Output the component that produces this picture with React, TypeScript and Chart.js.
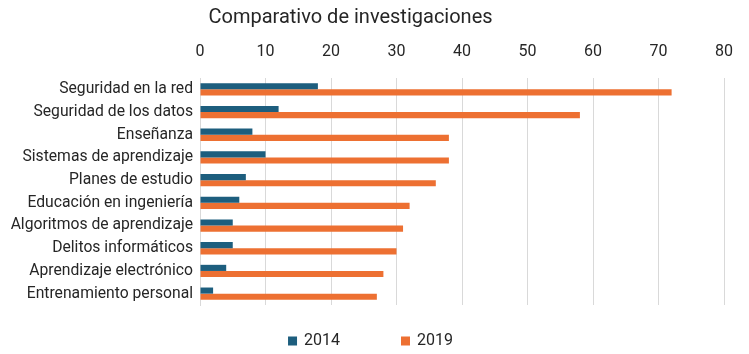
import React, { useEffect, useRef } from "react";
import { Chart, registerables } from "chart.js";

Chart.register(...registerables);

const chartTitle = "Comparativo de investigaciones";
const categories = [
  "Seguridad en la red",
  "Seguridad de los datos",
  "Enseñanza",
  "Sistemas de aprendizaje",
  "Planes de estudio",
  "Educación en ingeniería",
  "Algoritmos de aprendizaje",
  "Delitos informáticos",
  "Aprendizaje electrónico",
  "Entrenamiento personal",
];
const seriesNames = ["2014", "2019"];
const values2014 = [18, 12, 8, 10, 7, 6, 5, 5, 4, 2];
const values2019 = [72, 58, 38, 38, 36, 32, 31, 30, 28, 27];
const axisMin = 0;
const axisMax = 80;
const axisStep = 10;

const FONT = "Roboto, 'Noto Sans', sans-serif";
const TEXT = "#262626";

const titlePlugin = {
  id: "customTitle",
  afterDraw(chart: any) {
    const ctx = chart.ctx;
    ctx.save();
    ctx.font = `400 20px ${FONT}`;
    ctx.fillStyle = TEXT;
    ctx.textAlign = "center";
    ctx.textBaseline = "middle";
    ctx.fillText(chartTitle, chart.width * 0.468, 18);
    ctx.restore();
  },
};

const legendPlugin = {
  id: "customLegend",
  afterDraw(chart: any) {
    const ctx = chart.ctx;
    const box = 9;
    const gap = 7;
    const spacing = 61;
    ctx.save();
    ctx.font = `400 16px ${FONT}`;
    ctx.textBaseline = "middle";
    ctx.textAlign = "left";
    const items = chart.data.datasets.map((ds: any) => {
      const tw = ctx.measureText(ds.label).width;
      return { label: ds.label, color: ds.backgroundColor, w: box + gap + tw };
    });
    const total = items.reduce((a: number, it: any) => a + it.w, 0) + spacing * (items.length - 1);
    let x = chart.width / 2 - 4 - total / 2;
    const y = 341;
    items.forEach((it: any) => {
      ctx.fillStyle = it.color;
      ctx.fillRect(x, y - box / 2, box, box);
      ctx.fillStyle = TEXT;
      ctx.fillText(it.label, x + box + gap, y);
      x += it.w + spacing;
    });
    ctx.restore();
  },
};

export default function App() {
  const ref = useRef<HTMLCanvasElement | null>(null);
  useEffect(() => {
    document.body.style.margin = "0";
    if (!ref.current) return;
    const chart = new Chart(ref.current, {
      type: "bar",
      data: {
        labels: categories,
        datasets: [
          {
            label: seriesNames[0],
            data: values2014,
            backgroundColor: "#1D5E7E",
            categoryPercentage: 0.54,
            barPercentage: 1,
          },
          {
            label: seriesNames[1],
            data: values2019,
            backgroundColor: "#ED7032",
            categoryPercentage: 0.54,
            barPercentage: 1,
          },
        ],
      },
      options: {
        indexAxis: "y",
        animation: false,
        responsive: false,
        maintainAspectRatio: false,
        layout: { padding: { top: 0, right: 24, left: 0, bottom: 49 } },
        plugins: {
          title: { display: false },
          tooltip: { enabled: false },
          legend: { display: false },
        },
        scales: {
          x: {
            position: "top",
            min: axisMin,
            max: axisMax,
            ticks: {
              stepSize: axisStep,
              font: { family: FONT, size: 16 },
              color: TEXT,
              padding: 16,
            },
            grid: { color: "#d9d9d9", drawTicks: false },
            border: { display: false },
            afterFit: (s: any) => {
              s.height = 78;
            },
          },
          y: {
            ticks: {
              font: { family: FONT, size: 15.7 },
              color: TEXT,
              padding: 7,
              autoSkip: false,
            },
            grid: { display: false, drawTicks: false },
            border: { display: true, color: "#d9d9d9" },
            afterFit: (s: any) => {
              s.width = 200;
            },
          },
        },
      },
      plugins: [titlePlugin, legendPlugin],
    } as any);
    return () => chart.destroy();
  }, []);
  return (
    <div style={{ width: 749, height: 354 }}>
      <canvas ref={ref} width={749} height={354} style={{ width: 749, height: 354 }} />
    </div>
  );
}
